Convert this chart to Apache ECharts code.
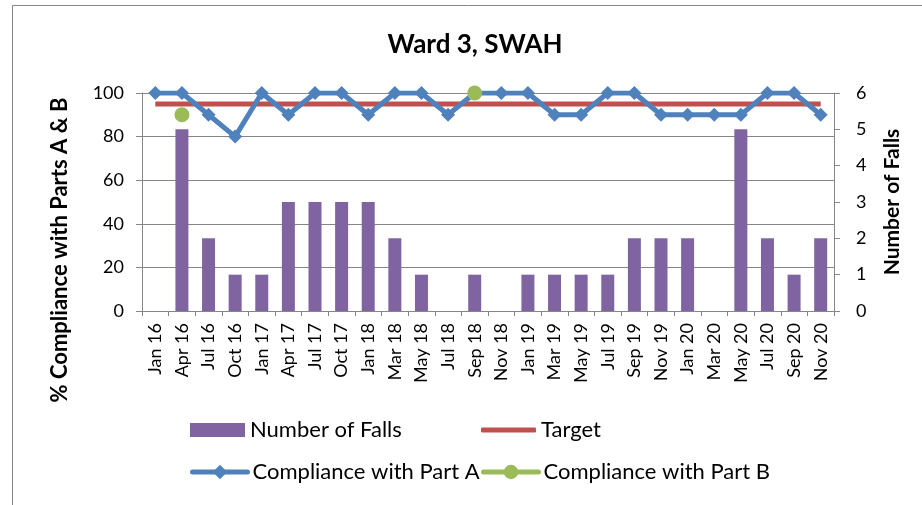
<!DOCTYPE html>
<html>
<head>
<meta charset="utf-8">
<title>Ward 3, SWAH</title>
<script src="https://cdn.jsdelivr.net/npm/echarts@6/dist/echarts.min.js"></script>
<style>
  html, body { margin: 0; padding: 0; background: #fff; }
  #chart { width: 922px; height: 505px; }
</style>
</head>
<body>
<div id="chart"></div>
<script>
let categories = ['Jan 16', 'Apr 16', 'Jul 16', 'Oct 16', 'Jan 17', 'Apr 17', 'Jul 17', 'Oct 17',
  'Jan 18', 'Mar 18', 'May 18', 'Jul 18', 'Sep 18', 'Nov 18', 'Jan 19', 'Mar 19', 'May 19',
  'Jul 19', 'Sep 19', 'Nov 19', 'Jan 20', 'Mar 20', 'May 20', 'Jul 20', 'Sep 20', 'Nov 20']
let falls = [0, 5, 2, 1, 1, 3, 3, 3, 3, 2, 1, 0, 1, 0, 1, 1, 1, 1, 2, 2, 2, 0, 5, 2, 1, 2]
let target = [95, 95, 95, 95, 95, 95, 95, 95, 95, 95, 95, 95, 95, 95, 95, 95, 95, 95, 95, 95, 95, 95, 95, 95, 95, 95]
let partA = [100, 100, 90, 80, 100, 90, 100, 100, 90, 100, 100, 90, 100, 100, 100, 90, 90, 100, 100, 90, 90, 90, 90, 100, 100, 90]
let partB = [null, 90, null, null, null, null, null, null, null, null, null, null, 100, null,
  null, null, null, null, null, null, null, null, null, null, null, null]
let leftTicks = [0, 100, 20]
let rightTicks = [0, 6, 1]

let font = 'Lato, "Liberation Sans", sans-serif'
let gray = '#868686'

let myChart = echarts.init(document.getElementById('chart'), null, { renderer: 'canvas' })

function legendAt(item, left, top, extra) {
  let lg = {
    data: [item],
    left: left,
    top: top,
    padding: 0,
    itemWidth: 55,
    itemHeight: 14,
    selectedMode: false,
    lineStyle: { width: 5, cap: 'round' },
    textStyle: { fontFamily: font, fontSize: 22, color: '#000', lineHeight: 24 }
  }
  return Object.assign(lg, extra || {})
}

let option = {
  animation: false,
  textStyle: { fontFamily: font },
  title: {
    text: 'Ward 3, SWAH',
    left: 470,
    top: 27,
    textAlign: 'center',
    textStyle: { fontFamily: font, fontSize: 26, fontWeight: 'bold', color: '#000' }
  },
  legend: [
    legendAt({ name: 'Number of Falls', icon: 'rect' }, 190, 418),
    legendAt({ name: 'Target', icon: 'roundRect' }, 481, 418, { itemHeight: 5, itemWidth: 55 }),
    legendAt('Compliance with Part A', 190, 460, { itemHeight: 18 }),
    legendAt('Compliance with Part B', 481, 460, { itemHeight: 18 })
  ],
  graphic: [
    {
      type: 'rect',
      shape: { x: 12.5, y: 5.5, width: 1000, height: 600 },
      style: { fill: 'none', stroke: gray, lineWidth: 1 },
      silent: true
    },
    {
      type: 'text',
      x: 60,
      y: 250,
      rotation: Math.PI / 2,
      style: {
        text: '% Compliance with Parts A & B',
        fontFamily: font,
        fontSize: 22,
        fontWeight: 'bold',
        fill: '#000',
        textAlign: 'center',
        textVerticalAlign: 'middle'
      }
    },
    {
      type: 'text',
      x: 892,
      y: 202,
      rotation: Math.PI / 2,
      style: {
        text: 'Number of Falls',
        fontFamily: font,
        fontSize: 21,
        fontWeight: 'bold',
        fill: '#000',
        textAlign: 'center',
        textVerticalAlign: 'middle'
      }
    }
  ],
  grid: {
    left: 142,
    right: 88,
    top: 93,
    bottom: 194,
    containLabel: false
  },
  xAxis: {
    type: 'category',
    data: categories,
    boundaryGap: true,
    axisLine: { lineStyle: { color: gray, width: 1 } },
    axisTick: { show: true, length: 5, alignWithLabel: false, lineStyle: { color: gray } },
    axisLabel: {
      interval: 0,
      rotate: 90,
      margin: 12,
      fontFamily: font,
      fontSize: 18,
      color: '#000'
    },
    splitLine: { show: false }
  },
  yAxis: [
    {
      type: 'value',
      min: leftTicks[0],
      max: leftTicks[1],
      interval: leftTicks[2],
      axisLine: { show: true, lineStyle: { color: gray } },
      axisTick: { show: true, length: 6, lineStyle: { color: gray } },
      axisLabel: { margin: 18, fontFamily: font, fontSize: 18, color: '#000' },
      splitLine: { show: true, lineStyle: { color: gray, width: 1 } }
    },
    {
      type: 'value',
      position: 'right',
      min: rightTicks[0],
      max: rightTicks[1],
      interval: rightTicks[2],
      axisLine: { show: true, lineStyle: { color: gray } },
      axisTick: { show: true, length: 6, lineStyle: { color: gray } },
      axisLabel: { margin: 22, fontFamily: font, fontSize: 18, color: '#000' },
      splitLine: { show: false }
    }
  ],
  series: [
    {
      name: 'Number of Falls',
      type: 'bar',
      yAxisIndex: 1,
      barWidth: 13,
      itemStyle: { color: '#8064A2' },
      data: falls,
      z: 1
    },
    {
      name: 'Target',
      type: 'line',
      yAxisIndex: 0,
      showSymbol: false,
      symbol: 'none',
      lineStyle: { color: '#C0504D', width: 5 },
      itemStyle: { color: '#C0504D' },
      data: target,
      z: 2
    },
    {
      name: 'Compliance with Part A',
      type: 'line',
      yAxisIndex: 0,
      symbol: 'diamond',
      symbolSize: 14,
      lineStyle: { color: '#4F81BD', width: 5 },
      itemStyle: { color: '#4F81BD' },
      data: partA,
      z: 3
    },
    {
      name: 'Compliance with Part B',
      type: 'line',
      yAxisIndex: 0,
      symbol: 'circle',
      symbolSize: 15,
      connectNulls: false,
      lineStyle: { color: '#9BBB59', width: 5 },
      itemStyle: { color: '#9BBB59' },
      data: partB,
      z: 4
    }
  ]
}

myChart.setOption(option)
</script>
</body>
</html>
